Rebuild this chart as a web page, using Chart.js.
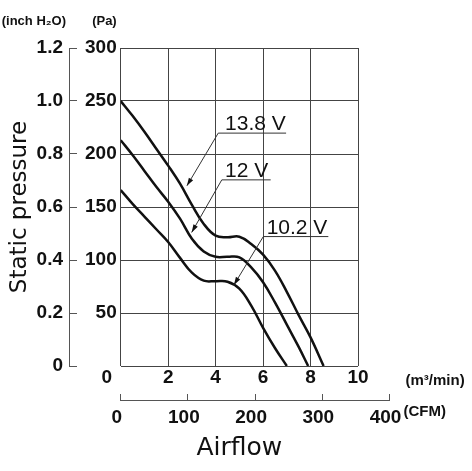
<!DOCTYPE html>
<html>
<head>
<meta charset="utf-8">
<script src="https://cdn.jsdelivr.net/npm/chart.js@4.4.1/dist/chart.umd.min.js"></script>
<style>
  html, body { margin: 0; padding: 0; background: #fff; }
  canvas { display: block; }
</style>
</head>
<body>
<canvas id="fan" width="472" height="471"></canvas>
<script>
// fan P-Q curves, airflow in m3/min, static pressure in Pa
const flow138 = [0, 0.5, 1, 1.5, 2, 2.5, 3, 3.5, 4, 4.5, 5, 5.5, 6, 6.5, 7, 7.5, 8, 8.55];
const pres138 = [250, 236, 221, 205, 189, 172, 152, 134, 123, 121.5, 122, 115, 105, 90, 70, 48, 27, 0];

const flow12 = [0, 0.5, 1, 1.5, 2, 2.5, 3, 3.5, 4, 4.5, 5, 5.5, 6, 6.5, 7, 7.5, 7.9];
const pres12 = [213, 199, 184, 169, 155, 139, 120, 108, 103, 103, 102.5, 93, 79, 60, 39, 18, 0];

const flow102 = [0, 0.5, 1, 1.5, 2, 2.5, 3, 3.5, 4, 4.5, 5, 5.5, 6, 6.5, 7];
const pres102 = [166, 153, 141, 129, 117, 102, 88, 80.5, 80, 79.5, 73, 57, 36, 17, 0];

const voltages = ["13.8 V", "12 V", "10.2 V"];

const flowTicks = [0, 2, 4, 6, 8, 10];
const cfmTicks = [0, 100, 200, 300, 400];
const paTicks = [0, 50, 100, 150, 200, 250, 300];
const inchTicks = [0, 0.2, 0.4, 0.6, 0.8, 1.0, 1.2];
const CFM_PER_M3 = 35.31;

// callout leaders, in data units (m3/min, Pa)
const callouts = [
  { tip: [2.79, 170], line: [4.11, 6.97, 219.7], textAt: 4.40 },
  { tip: [2.99, 126], line: [4.26, 6.32, 175.6], textAt: 4.40 },
  { tip: [4.77, 76.5], line: [6.01, 8.75, 122.1], textAt: 6.15 }
];

const numFont = { family: "'Liberation Sans', Arial, sans-serif", size: 19, weight: "bold", lineHeight: 1 };
const ink = "#111";
const gridColor = "#444";

const toPoints = (xs, ys) => xs.map((v, i) => ({ x: v, y: ys[i] }));

const extras = {
  id: "extras",
  afterLayout(chart) {
    // CFM axis runs past the plot frame, out to 400 CFM
    const x = chart.scales.x;
    const cfm = chart.scales.cfm;
    const end = x.getPixelForValue(cfmTicks[cfmTicks.length - 1] / CFM_PER_M3);
    cfm.right = end;
    cfm.width = end - cfm.left;
    cfm.configure();
  },
  afterDraw(chart) {
    const { ctx } = chart;
    const x = chart.scales.x, pa = chart.scales.pa, inch = chart.scales.inch, cfm = chart.scales.cfm;
    ctx.save();
    ctx.fillStyle = ink;

    ctx.font = "bold 19px 'Liberation Sans', Arial, sans-serif";
    ctx.textAlign = "center";
    ctx.textBaseline = "middle";
    ctx.fillText("0", x.left - 14, x.top + 12);

    ctx.font = "bold 13px 'Liberation Sans', Arial, sans-serif";
    ctx.textAlign = "right";
    ctx.fillText("(inch H\u2082O)", inch.right - 3, 21);
    ctx.fillText("(Pa)", pa.right - 4, 21);
    ctx.textAlign = "left";
    ctx.font = "bold 15px 'Liberation Sans', Arial, sans-serif";
    ctx.fillText("(m\u00b3/min)", cfm.right + 16, x.top + 15);
    ctx.fillText("(CFM)", cfm.right + 14, cfm.top + 12);

    ctx.font = "25px 'DejaVu Sans', sans-serif";
    ctx.textAlign = "center";
    ctx.textBaseline = "alphabetic";
    ctx.fillText("Airflow", (x.left + x.right) / 2, cfm.top + 55);

    callouts.forEach((c, i) => {
      const x0 = x.getPixelForValue(c.line[0]);
      const x1 = x.getPixelForValue(c.line[1]);
      const y0 = pa.getPixelForValue(c.line[2]);
      const tx = x.getPixelForValue(c.tip[0]);
      const ty = pa.getPixelForValue(c.tip[1]);
      ctx.strokeStyle = "#333";
      ctx.lineWidth = 1;
      ctx.beginPath();
      ctx.moveTo(x1, y0);
      ctx.lineTo(x0, y0);
      ctx.lineTo(tx, ty);
      ctx.stroke();
      const a = Math.atan2(ty - y0, tx - x0);
      ctx.beginPath();
      ctx.moveTo(tx, ty);
      ctx.lineTo(tx - 8 * Math.cos(a) + 2.5 * Math.sin(a), ty - 8 * Math.sin(a) - 2.5 * Math.cos(a));
      ctx.lineTo(tx - 8 * Math.cos(a) - 2.5 * Math.sin(a), ty - 8 * Math.sin(a) + 2.5 * Math.cos(a));
      ctx.closePath();
      ctx.fill();
      ctx.font = "21px 'Liberation Sans', Arial, sans-serif";
      ctx.textAlign = "left";
      ctx.fillText(voltages[i], x.getPixelForValue(c.textAt), y0 - 3);
    });
    ctx.restore();
  }
};

const curve = (data) => ({
  data: data,
  borderColor: ink,
  borderWidth: 2.5,
  pointRadius: 0,
  tension: 0.4,
  fill: false,
  xAxisID: "x",
  yAxisID: "pa"
});

new Chart(document.getElementById("fan"), {
  type: "line",
  data: {
    datasets: [
      curve(toPoints(flow138, pres138)),
      curve(toPoints(flow12, pres12)),
      curve(toPoints(flow102, pres102))
    ]
  },
  options: {
    responsive: false,
    animation: false,
    devicePixelRatio: 1,
    layout: { padding: { top: 48, right: 114, bottom: 0, left: 0 } },
    plugins: { legend: { display: false }, tooltip: { enabled: false } },
    scales: {
      x: {
        type: "linear",
        position: "bottom",
        weight: 0,
        min: 0,
        max: 10,
        afterBuildTicks: (s) => { s.ticks = flowTicks.map((v) => ({ value: v })); },
        afterFit: (s) => { s.height = 34; },
        grid: { color: gridColor, lineWidth: 1, drawTicks: false },
        border: { display: false },
        ticks: { padding: 2, color: ink, font: numFont, autoSkip: false, maxRotation: 0,
                 callback: (v) => (v === 0 ? "" : v) }
      },
      cfm: {
        type: "linear",
        position: "bottom",
        weight: 1,
        min: 0,
        max: 400,
        afterBuildTicks: (s) => { s.ticks = cfmTicks.map((v) => ({ value: v })); },
        afterFit: (s) => { s.height = 71; },
        grid: { drawOnChartArea: false, drawTicks: true, tickLength: -6, color: "#555" },
        border: { display: true, color: "#555", width: 1 },
        ticks: { padding: 14, labelOffset: -4, color: ink, font: numFont, autoSkip: false, maxRotation: 0 }
      },
      pa: {
        type: "linear",
        position: "left",
        weight: 0,
        min: 0,
        max: 300,
        afterBuildTicks: (s) => { s.ticks = paTicks.map((v) => ({ value: v })); },
        afterFit: (s) => { s.width = 51.7; },
        grid: { color: gridColor, lineWidth: 1, drawTicks: false },
        border: { display: false },
        ticks: { padding: 4, color: ink, font: numFont, callback: (v) => (v === 0 ? "" : v) }
      },
      inch: {
        type: "linear",
        position: "left",
        weight: 1,
        min: 0,
        max: 1.2,
        afterBuildTicks: (s) => { s.ticks = inchTicks.map((v) => ({ value: v })); },
        afterFit: (s) => { s.width = 69; },
        grid: { drawOnChartArea: false, drawTicks: true, tickLength: -8, color: "#555" },
        border: { display: true, color: "#555", width: 1 },
        ticks: { padding: 14, color: ink, font: numFont, callback: (v) => (v === 0 ? "0" : v.toFixed(1)) },
        title: { display: true, text: "Static pressure", color: ink,
                 font: { family: "'DejaVu Sans', sans-serif", size: 23 }, padding: { top: 6, bottom: 0 } }
      }
    }
  },
  plugins: [extras]
});
</script>
</body>
</html>
